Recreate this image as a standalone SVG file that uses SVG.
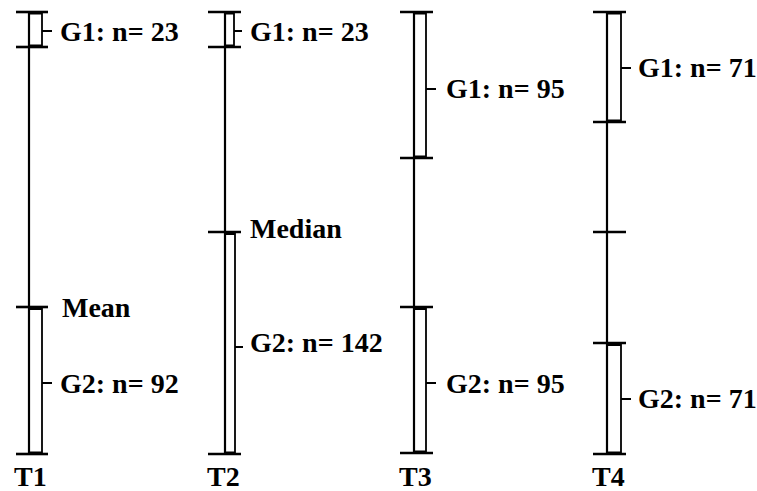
<svg xmlns="http://www.w3.org/2000/svg" width="757" height="491" viewBox="0 0 757 491">
<style>
.ax{stroke:#000;stroke-width:2.2;fill:none}
.tk{stroke:#000;stroke-width:2.6;fill:none}
.br{stroke:#000;stroke-width:1.8;fill:none}
text{font-family:"Liberation Serif","Times New Roman",serif;font-weight:bold;font-size:28px;fill:#000}
</style>
<rect width="757" height="491" fill="#fff"/>
<g id="connectors">
<line class="ax" x1="29" y1="12" x2="29" y2="454"/>
<line class="ax" x1="225" y1="12" x2="225" y2="454"/>
<line class="ax" x1="414" y1="12" x2="414" y2="454"/>
<line class="ax" x1="607" y1="12" x2="607" y2="454"/>
</g>
<g id="T1">
<line class="tk" x1="16" y1="12" x2="48" y2="12"/>
<line class="tk" x1="16" y1="47" x2="48" y2="47"/>
<line class="tk" x1="16" y1="307" x2="48" y2="307"/>
<line class="tk" x1="16" y1="454" x2="48" y2="454"/>
<path class="br" d="M29,13.5H42V45.5H29M42,31H52"/>
<path class="br" d="M29,309H42V452.5H29M42,383H52"/>
<text x="60" y="41">G1: n= 23</text>
<text x="62" y="317">Mean</text>
<text x="60" y="393">G2: n= 92</text>
<text x="14" y="486">T1</text>
</g>
<g id="T2">
<line class="tk" x1="208" y1="12" x2="241" y2="12"/>
<line class="tk" x1="208" y1="47" x2="241" y2="47"/>
<line class="tk" x1="208" y1="232" x2="241" y2="232"/>
<line class="tk" x1="208" y1="454" x2="241" y2="454"/>
<path class="br" d="M225,13.5H234V45.5H225M234,31H242"/>
<path class="br" d="M225,234H235V452.5H225M235,347H243"/>
<text x="250" y="41">G1: n= 23</text>
<text x="250" y="238">Median</text>
<text x="250" y="352">G2: n= 142</text>
<text x="207" y="486">T2</text>
</g>
<g id="T3">
<line class="tk" x1="400" y1="12" x2="433" y2="12"/>
<line class="tk" x1="400" y1="158" x2="433" y2="158"/>
<line class="tk" x1="400" y1="307" x2="433" y2="307"/>
<line class="tk" x1="400" y1="453" x2="433" y2="453"/>
<path class="br" d="M414,13.5H426V156.5H414M426,89H436"/>
<path class="br" d="M414,309H426V451.5H414M426,383H436"/>
<text x="446" y="98">G1: n= 95</text>
<text x="446" y="393">G2: n= 95</text>
<text x="399" y="486">T3</text>
</g>
<g id="T4">
<line class="tk" x1="593" y1="12" x2="626" y2="12"/>
<line class="tk" x1="593" y1="122" x2="626" y2="122"/>
<line class="tk" x1="593" y1="232" x2="626" y2="232"/>
<line class="tk" x1="593" y1="343" x2="626" y2="343"/>
<line class="tk" x1="593" y1="454" x2="626" y2="454"/>
<path class="br" d="M607,13.5H621V120.5H607M621,68H631"/>
<path class="br" d="M607,345H621V452.5H607M621,399H631"/>
<text x="638" y="77">G1: n= 71</text>
<text x="638" y="408">G2: n= 71</text>
<text x="592" y="486">T4</text>
</g>
</svg>
